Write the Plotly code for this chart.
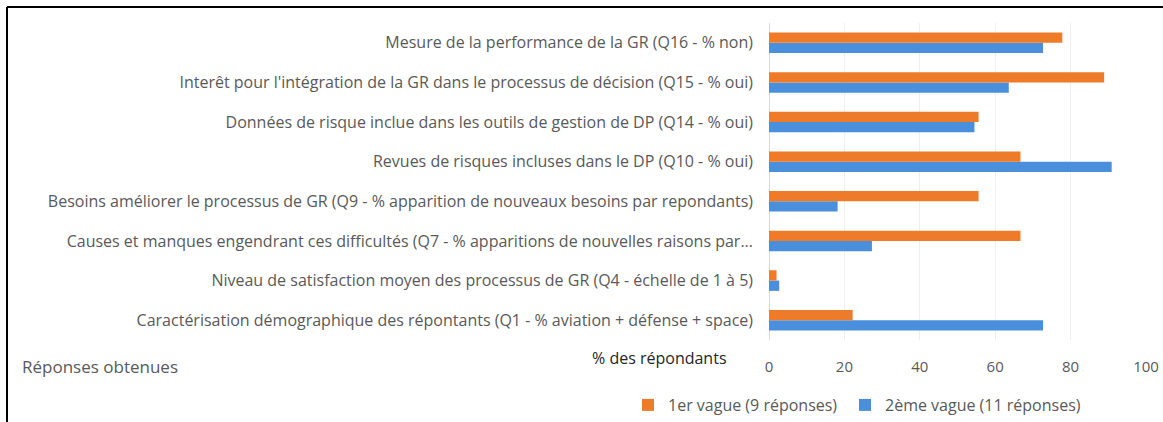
import plotly.graph_objects as go

# categories listed bottom -> top (plotly puts the first category at the bottom)
categories = [
    "Caractérisation démographique des répontants (Q1 - % aviation + défense + space)",
    "Niveau de satisfaction moyen des processus de GR (Q4 - échelle de 1 à 5)",
    "Causes et manques engendrant ces difficultés (Q7 - % apparitions de nouvelles raisons par...",
    "Besoins améliorer le processus de GR (Q9 - % apparition de nouveaux besoins par repondants)",
    "Revues de risques incluses dans le DP (Q10 - % oui)",
    "Données de risque inclue dans les outils de gestion de DP (Q14 - % oui)",
    "Interêt pour l'intégration de la GR dans le processus de décision (Q15 - % oui)",
    "Mesure de la performance de la GR (Q16 - % non)",
]
vague1 = [22.2, 2.0, 66.7, 55.6, 66.7, 55.6, 88.9, 77.8]
vague2 = [72.7, 2.7, 27.3, 18.2, 90.9, 54.5, 63.6, 72.7]
x_ticks = [0, 20, 40, 60, 80, 100]

ORANGE = "#EE7B2A"
BLUE = "#4A8FDC"
GREY = "#595959"
FONT = "Open Sans"

# plot area in pixels: x 769..1146, y 23..340
def px(x):
    return (x - 769) / 377

def py(y):
    return (340 - y) / 317

# blue first so that orange sits on top inside each group
data = [
    go.Bar(y=categories, x=vague2, orientation="h", name="2ème vague (11 réponses)",
           marker=dict(color=BLUE, line=dict(width=0)), legend="legend2"),
    go.Bar(y=categories, x=vague1, orientation="h", name="1er vague (9 réponses)",
           marker=dict(color=ORANGE, line=dict(width=0)), legend="legend"),
]

legend_style = dict(orientation="h", xanchor="left", yanchor="middle",
                    font=dict(size=16, color=GREY), itemwidth=30,
                    bgcolor="rgba(0,0,0,0)")

layout = go.Layout(
    width=1163, height=422,
    margin=dict(l=769, r=17, t=23, b=82, autoexpand=False),
    paper_bgcolor="white", plot_bgcolor="white",
    font=dict(family=FONT, size=15, color=GREY),
    barmode="group", bargap=0.48, bargroupgap=0,
    showlegend=True,
    legend=dict(x=px(628), y=py(405), **legend_style),
    legend2=dict(x=px(845), y=py(405), **legend_style),
    xaxis=dict(range=[0, 100], tickvals=x_ticks, showgrid=True, gridcolor="#EFEFEF",
               zeroline=True, zerolinecolor="#D9D9D9", zerolinewidth=1,
               ticks="", ticklabelstandoff=16, tickfont=dict(size=15, color=GREY),
               fixedrange=True),
    yaxis=dict(type="category", automargin=False, ticks="", ticklabelstandoff=15,
               showgrid=False, tickfont=dict(size=16, color=GREY),
               categoryorder="array", categoryarray=categories, fixedrange=True),
    annotations=[
        dict(text="% des répondants", xref="paper", yref="paper",
             x=px(659), y=py(358), xanchor="center", yanchor="middle",
             showarrow=False, font=dict(size=16, color="#262626")),
        dict(text="Réponses obtenues", xref="paper", yref="paper",
             x=px(20), y=py(366), xanchor="left", yanchor="middle",
             showarrow=False, font=dict(size=17, color=GREY)),
    ],
    shapes=[
        dict(type="line", xref="paper", yref="paper", x0=px(7), x1=px(1163),
             y0=py(7), y1=py(7), line=dict(color="black", width=2)),
        dict(type="line", xref="paper", yref="paper", x0=px(7), x1=px(7),
             y0=py(7), y1=py(422), line=dict(color="black", width=2)),
    ],
)

fig = go.Figure(data=data, layout=layout)
fig.write_html("out.html", config={"displayModeBar": False},
               post_script="document.body.style.margin='0';")
